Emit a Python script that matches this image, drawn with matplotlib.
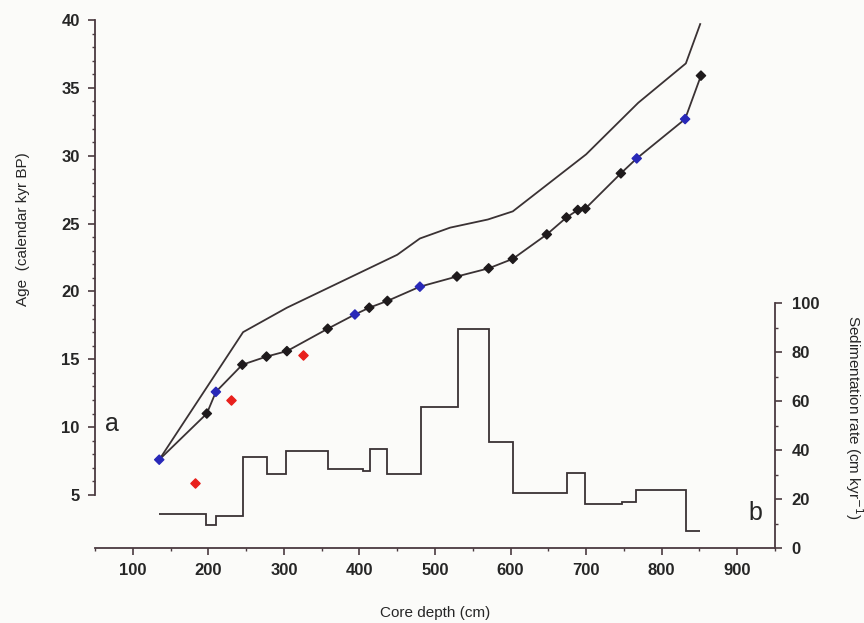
import numpy as np
import matplotlib.pyplot as plt
from matplotlib.ticker import MultipleLocator

plt.rcParams['font.family'] = ['Liberation Sans', 'DejaVu Sans']

# upper curve (no markers)
upper_depth = [135, 246, 304, 450, 480, 520, 570, 603, 700, 769, 832, 851]
upper_age = [7.6, 17.0, 18.8, 22.7, 23.9, 24.7, 25.3, 25.9, 30.1, 33.9, 36.8, 39.7]

# lower age model with dated points (b = black, u = blue)
model_depth = [135, 198, 210, 245, 277, 304, 358, 394, 413, 437, 480, 529,
               571, 603, 648, 674, 689, 699, 746, 767, 831, 852]
model_age = [7.6, 11.0, 12.6, 14.6, 15.2, 15.6, 17.25, 18.3, 18.8, 19.3, 20.35, 21.1,
             21.7, 22.4, 24.2, 25.45, 26.0, 26.1, 28.7, 29.8, 32.7, 35.9]
model_kind = ['u', 'b', 'u', 'b', 'b', 'b', 'b', 'u', 'b', 'b', 'u', 'b',
              'b', 'b', 'b', 'b', 'b', 'b', 'b', 'u', 'u', 'b']

# red points
red_depth = [183, 230, 325]
red_age = [5.9, 12.0, 15.3]

# sedimentation rate steps
sed_edges = [135, 197, 210, 246, 277, 303, 358, 405, 414, 437, 481, 530,
             571, 603, 675, 699, 747, 766, 832, 851]
sed_rate = [13.9, 9.4, 13.1, 37.3, 30.2, 39.6, 32.1, 31.6, 40.4, 30.2, 57.4,
            89.3, 43.4, 22.6, 30.7, 18.0, 18.9, 23.7, 7.1]

ink = '#3a3234'
axis_col = '#4a3a40'
txt = '#262626'

fig, ax = plt.subplots(figsize=(8.64, 6.23), dpi=100)
fig.patch.set_facecolor('#fbfbf9')
ax.set_facecolor('none')
fig.subplots_adjust(left=95/864, right=775/864, top=1-20/623, bottom=1-548/623)

ax.plot(upper_depth, upper_age, color=ink, lw=1.3)
ax.plot(model_depth, model_age, color=ink, lw=1.3)
cols = ['#2828b8' if k == 'u' else '#1e1a1c' for k in model_kind]
ax.scatter(model_depth, model_age, marker='D', s=22, c=cols, zorder=3)
ax.scatter(red_depth, red_age, marker='D', s=22, c='#e8201c', zorder=3)

ax.set_xlim(50, 950)
ax.set_ylim(40 - 528/13.571, 40)

ax2 = ax.twinx()
ax2.stairs(sed_rate, sed_edges, baseline=None, color=ink, lw=1.3)
ax2.set_ylim(0, 528/2.45)

for a in (ax, ax2):
    a.spines['top'].set_visible(False)
    for s in a.spines.values():
        s.set_color(axis_col)
        s.set_linewidth(1.3)
ax.spines['right'].set_visible(False)
ax2.spines['left'].set_visible(False)
ax2.spines['bottom'].set_visible(False)
ax.spines['left'].set_bounds(5, 40)
ax2.spines['right'].set_bounds(0, 100)

ax.set_xticks(range(100, 901, 100))
ax.xaxis.set_minor_locator(MultipleLocator(50))
ax.set_yticks(range(5, 41, 5))
ax.set_yticks([t for t in range(6, 40) if t % 5], minor=True)
ax2.set_yticks(range(0, 101, 20))
ax2.set_yticks(list(range(10, 100, 20)), minor=True)

ax.tick_params(which='major', length=5, width=1.2, color=axis_col, labelsize=12, pad=6)
ax.tick_params(which='minor', length=2.5, width=1.0, color=axis_col)
ax2.tick_params(which='major', length=5, width=1.2, color=axis_col, labelsize=12, pad=7)
ax2.tick_params(which='minor', length=2.5, width=1.0, color=axis_col)
for lab in ax.get_xticklabels() + ax.get_yticklabels() + ax2.get_yticklabels():
    lab.set_fontweight('bold')
    lab.set_color(txt)

ax.set_xlabel('Core depth (cm)', fontsize=11, color=txt, labelpad=20)
ax.set_ylabel('Age  (calendar kyr BP)', fontsize=11, color=txt)
ax.yaxis.set_label_coords(-0.096, (24.6 - ax.get_ylim()[0]) / (40 - ax.get_ylim()[0]))
ax2.set_ylabel('Sedimentation rate (cm kyr$^{-1}$)', fontsize=11, color=txt, rotation=-90)
ax2.yaxis.set_label_coords(1.132, 53.5 / ax2.get_ylim()[1])

ax.text(73, 10.2, 'a', fontsize=18, color=txt, ha='center', va='center')
ax2.text(924, 14.3, 'b', fontsize=18, color=txt, ha='center', va='center')

plt.savefig('out.png', dpi=100, facecolor=fig.get_facecolor())
